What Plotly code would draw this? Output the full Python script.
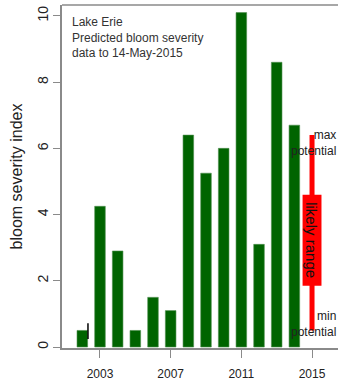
import plotly.graph_objects as go

years = [2002, 2003, 2004, 2005, 2006, 2007, 2008, 2009, 2010, 2011, 2012, 2013, 2014]
severity = [0.5, 4.25, 2.9, 0.5, 1.5, 1.1, 6.4, 5.25, 6.0, 10.1, 3.1, 8.6, 6.7]

forecast_year = 2015
min_potential = 0.5
max_potential = 6.4
likely_low = 1.85
likely_high = 4.6

x_ticks = [2003, 2007, 2011, 2015]
y_ticks = [0, 2, 4, 6, 8, 10]

mark_x = [2002.32, 2002.32]
mark_y = [0.24, 0.72]

FONT = "Liberation Sans, Arial, sans-serif"

fig = go.Figure()
fig.add_trace(go.Bar(x=years, y=severity, width=0.6,
                     marker=dict(color="#006400", line=dict(color="#4f8f4f", width=0.6)),
                     showlegend=False, hoverinfo="skip"))
# likely range box
fig.add_trace(go.Bar(x=[forecast_year], y=[likely_high - likely_low], base=[likely_low], width=1.07,
                     marker=dict(color="#ff0000", line=dict(width=0)), showlegend=False, hoverinfo="skip"))
# potential range line
fig.add_trace(go.Scatter(x=[forecast_year, forecast_year], y=[min_potential, max_potential], mode="lines",
                         line=dict(color="#ff0000", width=5), showlegend=False, hoverinfo="skip"))
fig.add_trace(go.Scatter(x=mark_x, y=mark_y, mode="lines",
                         line=dict(color="#000000", width=1.5), showlegend=False, hoverinfo="skip"))

fig.add_annotation(x=forecast_year, y=(likely_low + likely_high) / 2, text="likely range", textangle=90,
                   showarrow=False, font=dict(family=FONT, size=15, color="#111"))
fig.add_annotation(xref="paper", x=1.0, xanchor="right", y=max_potential, yanchor="middle",
                   text="max<br>potential", align="right", showarrow=False, yshift=-8,
                   font=dict(family=FONT, size=12, color="#222"))
fig.add_annotation(xref="paper", x=1.0, xanchor="right", y=min_potential, yanchor="middle",
                   text="min<br>potential", align="right", showarrow=False, yshift=6,
                   font=dict(family=FONT, size=12, color="#222"))
fig.add_annotation(xref="paper", yref="paper", x=0.03, y=0.978, xanchor="left", yanchor="top",
                   text="Lake Erie<br>Predicted bloom severity<br>data to 14-May-2015", align="left",
                   showarrow=False, font=dict(family=FONT, size=12, color="#333"))

# top border of box
fig.add_shape(type="line", xref="paper", yref="paper", x0=0, x1=1, y0=1, y1=1,
              line=dict(color="#8a8a8a", width=1.5))

fig.update_layout(
    width=338, height=383,
    margin=dict(l=62, r=0, t=5, b=35),
    plot_bgcolor="white", paper_bgcolor="white",
    barmode="overlay",
    font=dict(family=FONT, size=12, color="#222"),
    xaxis=dict(range=[2000.85, 2016.47], tickvals=x_ticks, ticktext=[str(v) for v in x_ticks],
               showgrid=False, zeroline=False, showline=True, linecolor="#8a8a8a", linewidth=1.5,
               ticks="outside", ticklen=8, tickcolor="#8a8a8a", tickwidth=1.2,
               ticklabelstandoff=6, tickfont=dict(size=12, color="#222")),
    yaxis=dict(range=[-0.03, 10.33], tickvals=y_ticks, ticktext=[str(v) for v in y_ticks],
               showgrid=False, zeroline=False, showline=True, linecolor="#8a8a8a", linewidth=1.5,
               ticks="outside", ticklen=7, tickcolor="#8a8a8a", tickwidth=1.2, tickangle=-90,
               tickfont=dict(size=14, color="#222"),
               title=dict(text="bloom severity index", font=dict(size=16, color="#222"), standoff=8)),
)

fig.write_html("out.html", config={"displayModeBar": False},
               post_script="document.body.style.margin='0';document.body.style.overflow='hidden';")
